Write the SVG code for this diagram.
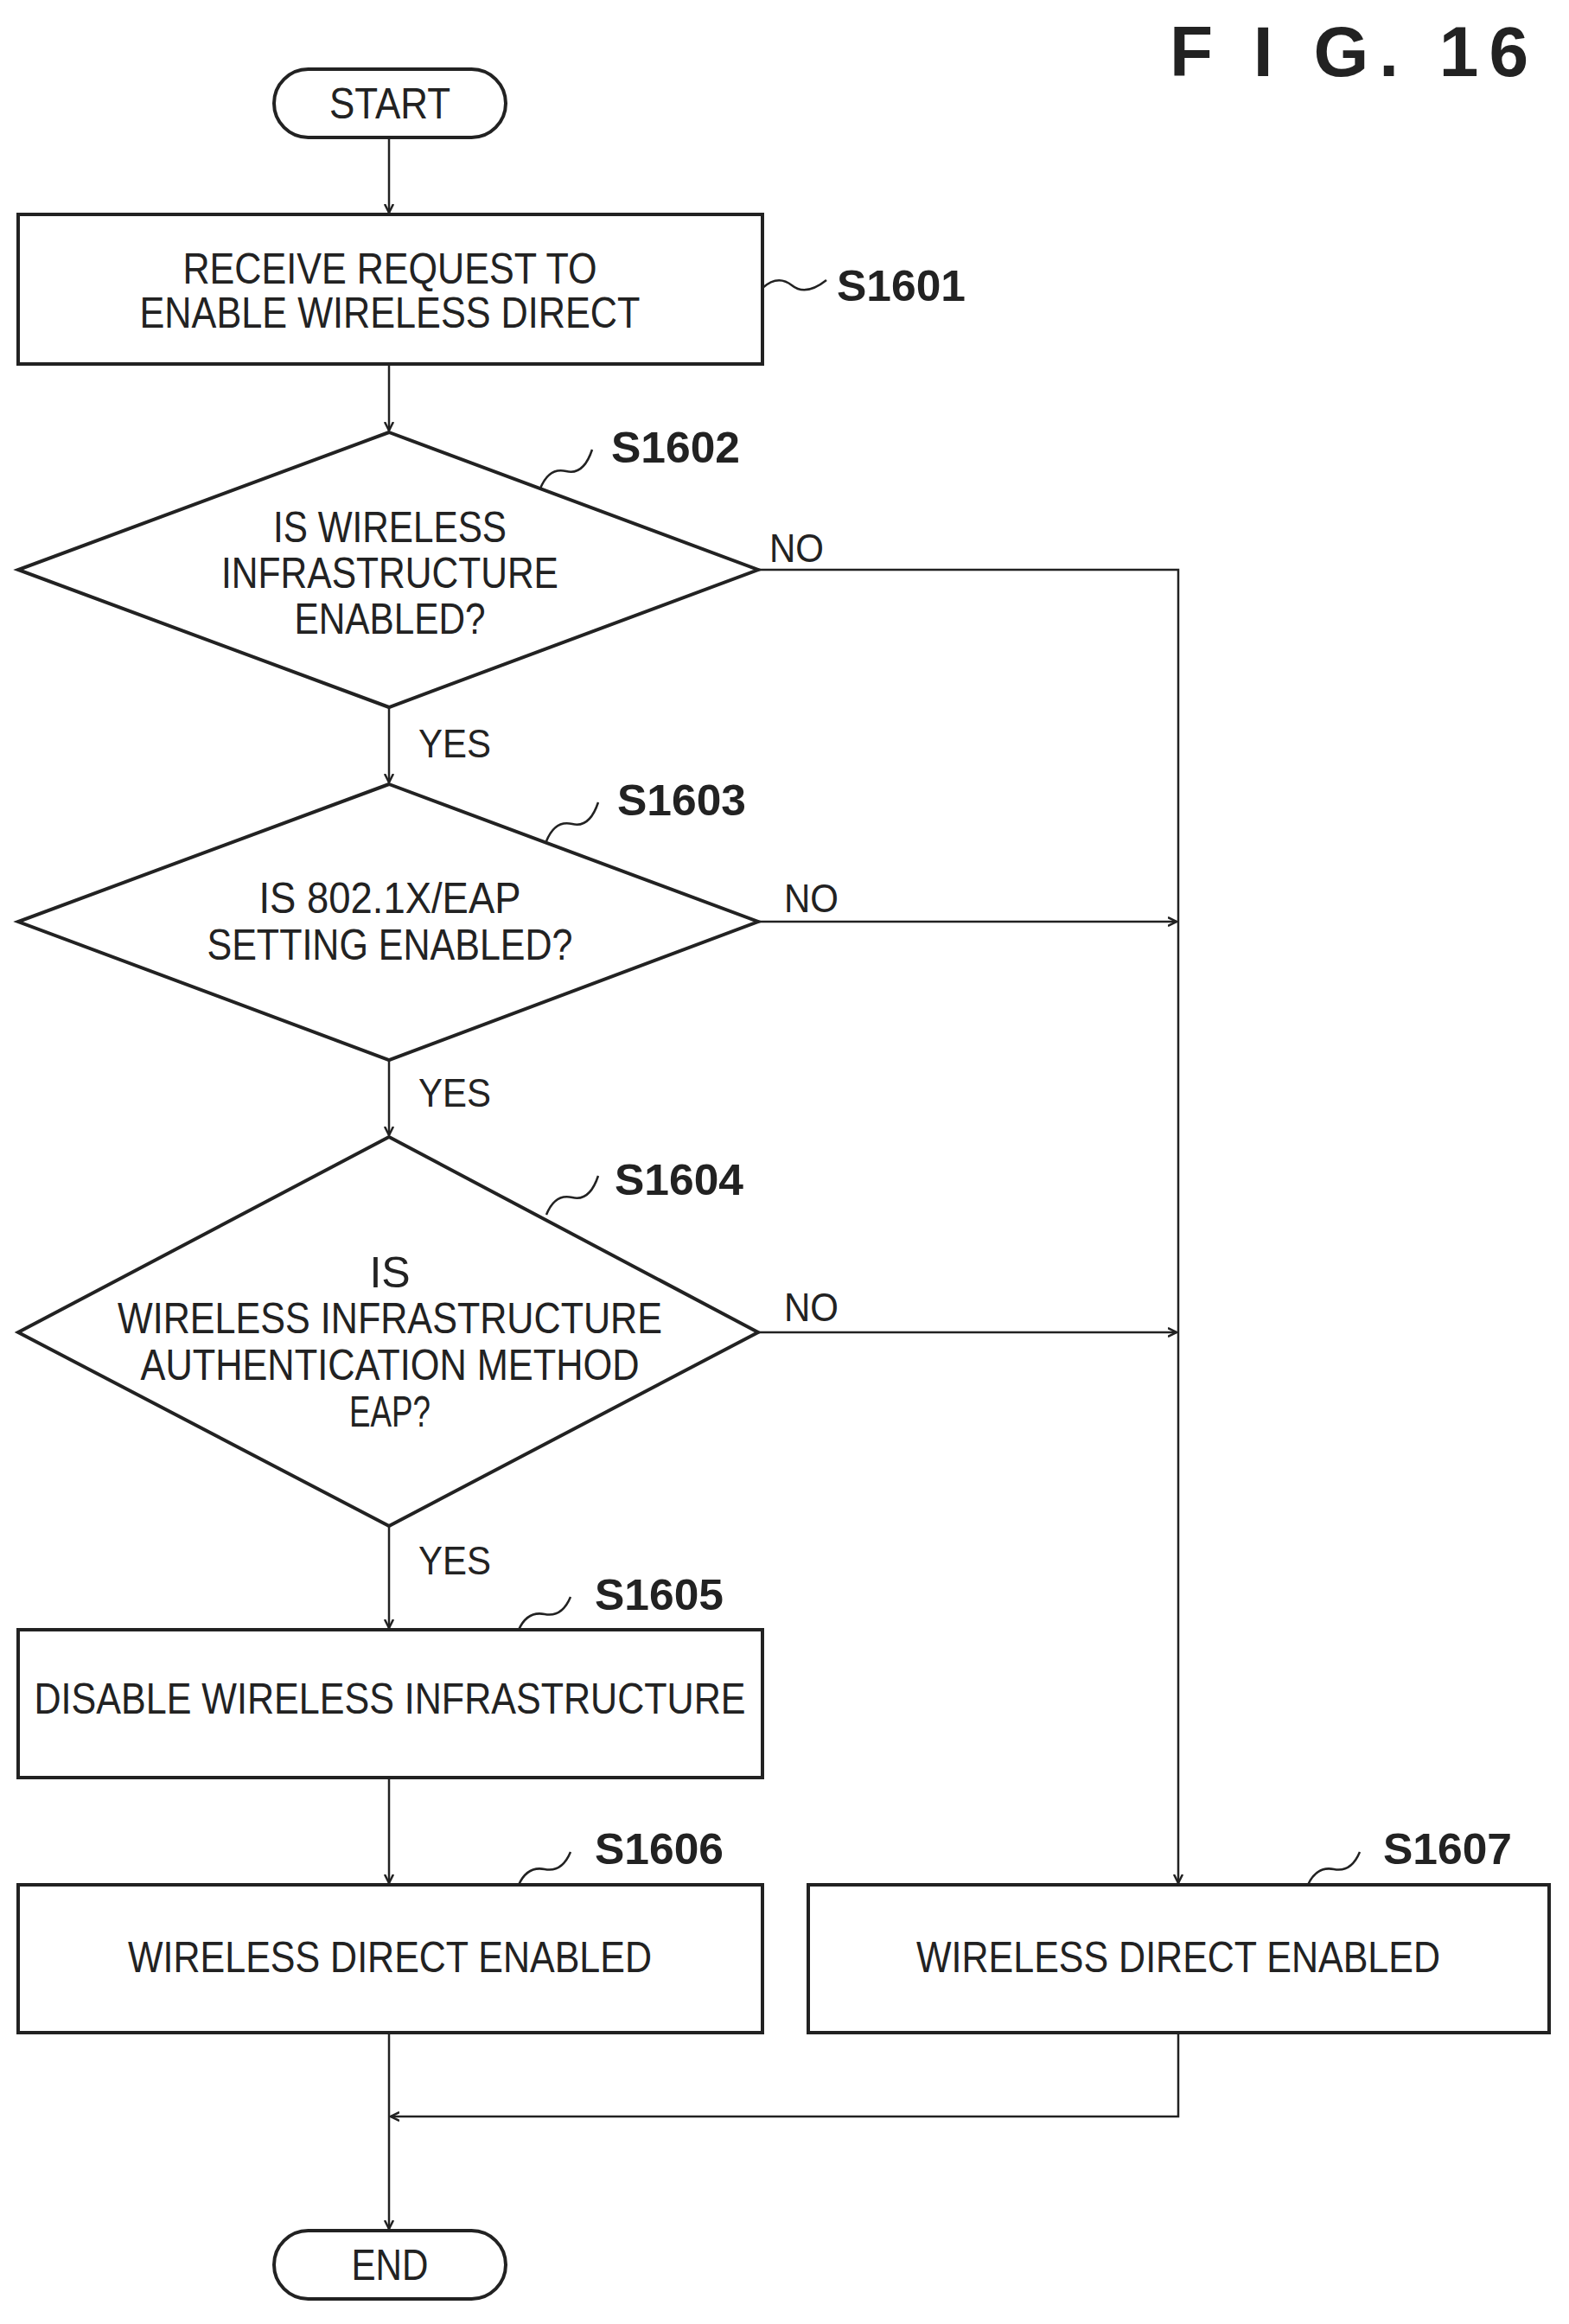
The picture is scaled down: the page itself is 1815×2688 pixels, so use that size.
<svg xmlns="http://www.w3.org/2000/svg" width="1815" height="2688" viewBox="0 0 1815 2688">
<style>
.s{fill:none;stroke:#222;stroke-width:4}
.c{fill:none;stroke:#222;stroke-width:2.5}
.t{font-family:"Liberation Sans",Arial,sans-serif;font-size:50px;fill:#222;text-anchor:middle}
.l{font-family:"Liberation Sans",Arial,sans-serif;font-size:50px;font-weight:bold;fill:#222}
.y{font-family:"Liberation Sans",Arial,sans-serif;font-size:46px;fill:#222}
</style>
<defs><marker id="a" markerWidth="12" markerHeight="12" refX="10" refY="6" orient="auto" markerUnits="userSpaceOnUse"><path d="M0,1 L10,6 L0,11" fill="none" stroke="#222" stroke-width="2.5"/></marker></defs>
<text x="1780" y="88" font-family="Liberation Sans,Arial,sans-serif" font-size="82" font-weight="bold" fill="#222" text-anchor="end" letter-spacing="12">F I G.  16</text>
<g id="start"><rect class="s" x="317" y="80" width="268" height="79" rx="39.5"/><text class="t" x="451" y="137" textLength="140" lengthAdjust="spacingAndGlyphs">START</text></g>
<g id="s1601"><rect class="s" x="21" y="248" width="861" height="173"/><text class="t" x="451" y="328" textLength="479" lengthAdjust="spacingAndGlyphs">RECEIVE REQUEST TO</text><text class="t" x="451" y="379" textLength="579" lengthAdjust="spacingAndGlyphs">ENABLE WIRELESS DIRECT</text><path class="c" d="M882,333 q18,-16 34,-3 t40,-6"/><text class="l" x="968" y="348" textLength="149" lengthAdjust="spacingAndGlyphs">S1601</text></g>
<g id="s1602"><path class="s" d="M450,500 L877,659 L450,818 L21,659 Z"/><text class="t" x="451" y="627" textLength="270" lengthAdjust="spacingAndGlyphs">IS WIRELESS</text><text class="t" x="451" y="680" textLength="390" lengthAdjust="spacingAndGlyphs">INFRASTRUCTURE</text><text class="t" x="451" y="733" textLength="221" lengthAdjust="spacingAndGlyphs">ENABLED?</text><path class="c" d="M625,565 q10,-25 30,-20 t30,-25"/><text class="l" x="707" y="535" textLength="149" lengthAdjust="spacingAndGlyphs">S1602</text></g>
<g id="s1603"><path class="s" d="M450,907 L877,1066 L450,1226 L21,1066 Z"/><text class="t" x="451" y="1056" textLength="303" lengthAdjust="spacingAndGlyphs">IS 802.1X/EAP</text><text class="t" x="451" y="1110" textLength="423" lengthAdjust="spacingAndGlyphs">SETTING ENABLED?</text><path class="c" d="M632,973 q10,-25 30,-20 t30,-25"/><text class="l" x="714" y="943" textLength="149" lengthAdjust="spacingAndGlyphs">S1603</text></g>
<g id="s1604"><path class="s" d="M450,1315 L877,1541 L450,1765 L21,1541 Z"/><text class="t" x="451" y="1489">IS</text><text class="t" x="451" y="1542" textLength="630" lengthAdjust="spacingAndGlyphs">WIRELESS INFRASTRUCTURE</text><text class="t" x="451" y="1596" textLength="577" lengthAdjust="spacingAndGlyphs">AUTHENTICATION METHOD</text><text class="t" x="451" y="1650" textLength="94" lengthAdjust="spacingAndGlyphs">EAP?</text><path class="c" d="M632,1405 q10,-25 30,-20 t30,-25"/><text class="l" x="711" y="1382" textLength="149" lengthAdjust="spacingAndGlyphs">S1604</text></g>
<g id="s1605"><rect class="s" x="21" y="1885" width="861" height="171"/><text class="t" x="451" y="1982" textLength="823" lengthAdjust="spacingAndGlyphs">DISABLE WIRELESS INFRASTRUCTURE</text><path class="c" d="M600,1885 q10,-22 30,-18 t30,-20"/><text class="l" x="688" y="1862" textLength="149" lengthAdjust="spacingAndGlyphs">S1605</text></g>
<g id="s1606"><rect class="s" x="21" y="2180" width="861" height="171"/><text class="t" x="451" y="2281" textLength="606" lengthAdjust="spacingAndGlyphs">WIRELESS DIRECT ENABLED</text><path class="c" d="M600,2180 q10,-22 30,-18 t30,-20"/><text class="l" x="688" y="2156" textLength="149" lengthAdjust="spacingAndGlyphs">S1606</text></g>
<g id="s1607"><rect class="s" x="935" y="2180" width="857" height="171"/><text class="t" x="1363" y="2281" textLength="606" lengthAdjust="spacingAndGlyphs">WIRELESS DIRECT ENABLED</text><path class="c" d="M1513,2180 q10,-22 30,-18 t30,-20"/><text class="l" x="1600" y="2156" textLength="149" lengthAdjust="spacingAndGlyphs">S1607</text></g>
<g id="end"><rect class="s" x="317" y="2580" width="268" height="79" rx="39.5"/><text class="t" x="451" y="2637" textLength="89" lengthAdjust="spacingAndGlyphs">END</text></g>
<g id="connectors">
<path class="c" d="M450,159 V246" marker-end="url(#a)"/>
<path class="c" d="M450,421 V498" marker-end="url(#a)"/>
<path class="c" d="M450,818 V905" marker-end="url(#a)"/>
<path class="c" d="M450,1226 V1313" marker-end="url(#a)"/>
<path class="c" d="M450,1765 V1883" marker-end="url(#a)"/>
<path class="c" d="M450,2056 V2178" marker-end="url(#a)"/>
<path class="c" d="M450,2351 V2578" marker-end="url(#a)"/>
<path class="c" d="M877,659 H1363 V2178" marker-end="url(#a)"/>
<path class="c" d="M877,1066 H1361" marker-end="url(#a)"/>
<path class="c" d="M877,1541 H1361" marker-end="url(#a)"/>
<path class="c" d="M1363,2351 V2448 H452" marker-end="url(#a)"/>
<text class="y" x="890" y="650" textLength="63" lengthAdjust="spacingAndGlyphs">NO</text>
<text class="y" x="907" y="1055" textLength="63" lengthAdjust="spacingAndGlyphs">NO</text>
<text class="y" x="907" y="1528" textLength="63" lengthAdjust="spacingAndGlyphs">NO</text>
<text class="y" x="484" y="876" textLength="84" lengthAdjust="spacingAndGlyphs">YES</text>
<text class="y" x="484" y="1280" textLength="84" lengthAdjust="spacingAndGlyphs">YES</text>
<text class="y" x="484" y="1821" textLength="84" lengthAdjust="spacingAndGlyphs">YES</text>
</g>
</svg>
